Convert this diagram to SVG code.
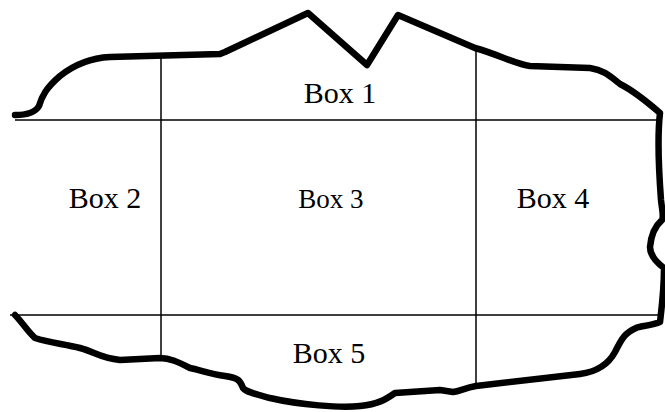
<svg xmlns="http://www.w3.org/2000/svg" width="665" height="412" viewBox="0 0 665 412">
<style>
.outline{fill:none;stroke:#000;stroke-width:6.5;stroke-linejoin:round;stroke-linecap:round}
.grid{stroke:#000;stroke-width:1.5;fill:none}
.lbl{font-family:"Liberation Serif","Times New Roman",serif;font-size:30px;fill:#000;text-anchor:middle}
</style>
<rect width="665" height="412" fill="#fff"/>
<path class="outline" d="M15,115 C25,115 35,113 39,106 C42,96 46,88 60,76 C75,64 90,58 110,57 L220,54 L225,52 L308,13 L367,65 L398,15 L475,48 C500,55 515,64 530,66 L590,68 C605,70 612,78 620,84 C632,90 645,100 660,113 C658,130 658,160 661,200 C662,210 664,216 662,220 C655,226 651,236 650,247 C650,255 656,262 664,268 C664,290 662,305 660,322 C650,326 640,326 636,328 C625,333 622,338 615,352 C608,365 595,372 580,374 L476,386 C465,388 460,391 453,392 L440,390 L395,393 C385,400 378,404 360,406 C340,408 300,405 270,398 C255,394 246,392 243,388 C240,380 238,378 225,376 C210,374 200,370 190,368 C178,362 170,358 160,358 L120,360 C100,358 95,352 80,348 C65,344 50,343 35,338 C28,332 22,322 15,315"/>
<g id="connectors">
<line class="grid" x1="15" y1="120" x2="660" y2="120"/>
<line class="grid" x1="10" y1="315" x2="660" y2="315"/>
<line class="grid" x1="161" y1="57" x2="161" y2="358"/>
<line class="grid" x1="476" y1="47" x2="476" y2="386"/>
</g>
<g id="box1"><text class="lbl" x="340" y="103">Box 1</text></g>
<g id="box2"><text class="lbl" x="105" y="208">Box 2</text></g>
<g id="box3"><text class="lbl" x="331" y="208" style="font-size:27px">Box 3</text></g>
<g id="box4"><text class="lbl" x="553" y="208">Box 4</text></g>
<g id="box5"><text class="lbl" x="329" y="363">Box 5</text></g>
</svg>
